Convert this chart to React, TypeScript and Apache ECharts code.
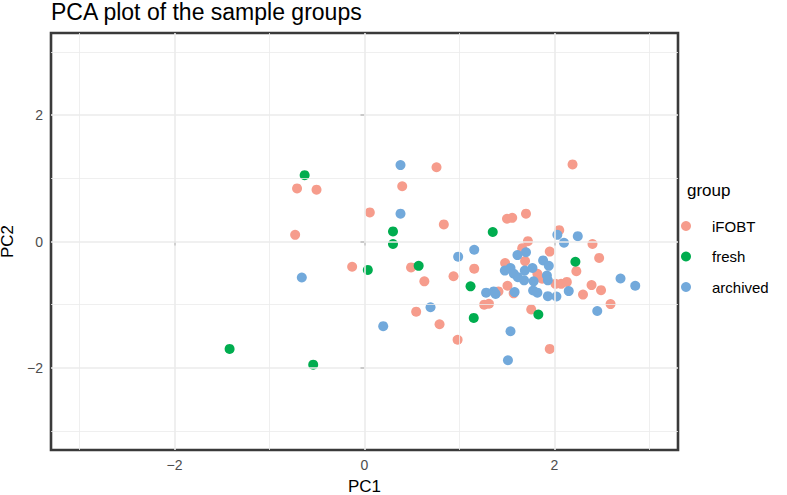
import React, { useEffect, useRef } from "react";
import * as echarts from "echarts";

const groups = ["iFOBT", "fresh", "archived"];
const colors = ["#F69C8C", "#00AD4F", "#72A9DB"];

const iFOBT: [number, number][] = [
  [-0.71, 0.84], [-0.505, 0.82], [0.056, 0.46], [-0.73, 0.105], [-0.13, -0.40],
  [0.758, 1.175], [2.19, 1.22], [0.397, 0.875], [0.835, 0.27], [1.50, 0.36],
  [1.555, 0.375], [1.70, 0.44], [2.05, 0.18], [1.72, 0.005], [2.40, -0.04],
  [1.66, -0.105], [1.95, -0.16], [2.47, -0.26], [1.69, -0.31], [1.48, -0.34],
  [2.23, -0.47], [0.49, -0.41], [1.155, -0.43], [1.82, -0.51], [1.87, -0.59],
  [2.01, -0.67], [2.07, -0.67], [2.13, -0.64], [2.39, -0.69], [2.49, -0.77],
  [2.30, -0.84], [2.59, -0.99], [0.937, -0.55], [0.63, -0.63], [1.505, -0.70],
  [1.57, -0.82], [1.41, -0.79], [1.26, -1.0], [1.31, -0.985], [0.544, -1.11],
  [1.755, -1.075], [0.79, -1.31], [0.98, -1.555], [1.95, -1.70],
];

const fresh: [number, number][] = [
  [-0.63, 1.05], [0.035, -0.45], [-1.42, -1.70], [-0.54, -1.95], [0.30, 0.16],
  [1.35, 0.15], [0.30, -0.04], [2.22, -0.32], [0.57, -0.385], [1.116, -0.71],
  [1.83, -1.155], [1.15, -1.21],
];

const archived: [number, number][] = [
  [-0.66, -0.57], [0.379, 1.21], [0.379, 0.44], [2.03, 0.105], [2.245, 0.085],
  [2.10, -0.02], [1.70, -0.17], [1.61, -0.215], [1.155, -0.13], [0.986, -0.24],
  [1.88, -0.30], [1.94, -0.385], [1.477, -0.46], [1.537, -0.42], [1.572, -0.51],
  [1.614, -0.565], [1.687, -0.46], [1.768, -0.42], [1.68, -0.615], [1.78, -0.63],
  [1.775, -0.775], [1.82, -0.81], [1.92, -0.54], [1.93, -0.615], [2.15, -0.785],
  [2.695, -0.585], [2.85, -0.70], [2.45, -1.10], [1.58, -0.80], [1.28, -0.81],
  [1.36, -0.79], [1.38, -0.83], [1.93, -0.865], [2.02, -0.87], [0.695, -1.04],
  [0.197, -1.34], [1.537, -1.42], [1.51, -1.88],
];

const seriesData = [iFOBT, fresh, archived];

const axisMin = -3.3;
const axisMax = 3.3;
const majorTicks = [-2, 0, 2];
const minorLines = [-3, -1, 1, 3];

const FONT = "Liberation Sans, Arial, Helvetica, sans-serif";
const fmt = (v: number) => (v < 0 ? "\u2212" + Math.abs(v) : String(v));

export default function App() {
  const ref = useRef<HTMLDivElement>(null);
  useEffect(() => {
    if (!ref.current) return;
    const chart = echarts.init(ref.current, null, { renderer: "svg" });
    const gridColor = "#EBEBEB";
    const gridLines: any[] = [];
    majorTicks.forEach((v) => {
      gridLines.push({ xAxis: v, lineStyle: { width: 1.6, color: gridColor, type: "solid" } });
      gridLines.push({ yAxis: v, lineStyle: { width: 1.6, color: gridColor, type: "solid" } });
    });
    minorLines.forEach((v) => {
      gridLines.push({ xAxis: v, lineStyle: { width: 0.8, color: gridColor, type: "solid" } });
      gridLines.push({ yAxis: v, lineStyle: { width: 0.8, color: gridColor, type: "solid" } });
    });
    const axisCommon = {
      type: "value",
      min: axisMin,
      max: axisMax,
      splitLine: { show: false },
      axisLine: { show: false },
      axisTick: {
        show: true,
        customValues: majorTicks,
        length: 4,
        lineStyle: { color: "#333333", width: 1.5 },
      },
      axisLabel: {
        customValues: majorTicks,
        formatter: fmt,
        color: "#4D4D4D",
        fontSize: 14,
        fontFamily: FONT,
        margin: 8,
      },
      nameLocation: "middle",
      nameTextStyle: { color: "#000", fontSize: 17, fontFamily: FONT },
    };
    chart.setOption({
      animation: false,
      textStyle: { fontFamily: FONT },
      title: [
        {
          text: "PCA plot of the sample groups",
          left: 51,
          top: 0,
          padding: 0,
          textStyle: { fontSize: 23, fontWeight: "normal", color: "#000", fontFamily: FONT },
        },
        {
          text: "group",
          left: 687,
          top: 182,
          padding: 0,
          textStyle: { fontSize: 17, fontWeight: "normal", color: "#000", fontFamily: FONT },
        },
      ],
      legend: {
        data: groups,
        orient: "vertical",
        left: 681,
        top: 217,
        padding: 0,
        icon: "circle",
        itemWidth: 42,
        itemHeight: 10,
        itemGap: 12.5,
        textStyle: { fontSize: 15, lineHeight: 18, color: "#000", fontFamily: FONT },
      },
      grid: {
        left: 51,
        right: 109,
        top: 33,
        bottom: 45,
        show: true,
        backgroundColor: "#FFFFFF",
        borderColor: "#3A3A3A",
        borderWidth: 2.6,
        containLabel: false,
        outerBoundsMode: "none",
      },
      xAxis: { ...axisCommon, name: "PC1", nameGap: 28 },
      yAxis: { ...axisCommon, name: "PC2", nameGap: 30 },
      series: [
        {
          type: "scatter",
          data: [],
          silent: true,
          z: 1,
          markLine: {
            silent: true,
            symbol: ["none", "none"],
            label: { show: false },
            animation: false,
            data: gridLines,
          },
        },
        ...groups.map((g, i) => ({
          name: g,
          type: "scatter",
          z: 3,
          symbol: "circle",
          symbolSize: 10,
          itemStyle: { color: colors[i], opacity: 1 },
          data: seriesData[i],
        })),
      ],
    });
    return () => chart.dispose();
  }, []);
  return (
    <div
      ref={ref}
      style={{ position: "fixed", left: 0, top: 0, width: 787, height: 495, background: "#fff" }}
    />
  );
}
